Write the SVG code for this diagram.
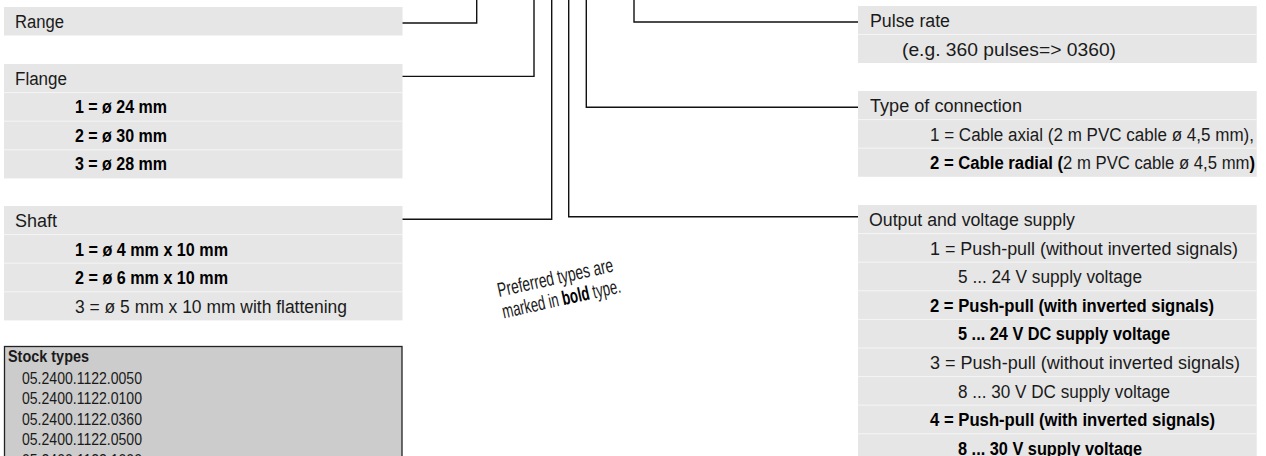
<svg xmlns="http://www.w3.org/2000/svg" width="1266" height="456" viewBox="0 0 1266 456">
<style>
.bg{fill:#e6e6e6}
.sep{stroke:#f5f5f5;stroke-width:1}
.t{font-family:"Liberation Sans",Arial,sans-serif;font-size:18px;fill:#1a1a1a}
.b{font-weight:bold;fill:#000}
.s{font-family:"Liberation Sans",Arial,sans-serif;font-size:17px;fill:#1a1a1a}
.n{font-family:"Liberation Sans",Arial,sans-serif;font-size:20px;fill:#1a1a1a}
.c{fill:none;stroke:#111;stroke-width:1.4}
</style>
<rect width="1266" height="456" fill="#fff"/>

<g id="range">
<rect class="bg" x="4" y="7" width="398.5" height="28.5"/>
<text class="t" x="15" y="27.5" textLength="49" lengthAdjust="spacingAndGlyphs">Range</text>
</g>

<g id="flange">
<rect class="bg" x="4" y="64" width="398.5" height="114.4"/>
<line class="sep" x1="4" x2="402.5" y1="92.6" y2="92.6"/>
<line class="sep" x1="4" x2="402.5" y1="121.2" y2="121.2"/>
<line class="sep" x1="4" x2="402.5" y1="149.8" y2="149.8"/>
<text class="t" x="15" y="84.5" textLength="52" lengthAdjust="spacingAndGlyphs">Flange</text>
<text class="t b" x="75" y="113" textLength="92" lengthAdjust="spacingAndGlyphs">1 = ø 24 mm</text>
<text class="t b" x="75" y="141.6" textLength="92" lengthAdjust="spacingAndGlyphs">2 = ø 30 mm</text>
<text class="t b" x="75" y="170.2" textLength="92" lengthAdjust="spacingAndGlyphs">3 = ø 28 mm</text>
</g>

<g id="shaft">
<rect class="bg" x="4" y="206" width="398.5" height="114.4"/>
<line class="sep" x1="4" x2="402.5" y1="234.6" y2="234.6"/>
<line class="sep" x1="4" x2="402.5" y1="263.2" y2="263.2"/>
<line class="sep" x1="4" x2="402.5" y1="291.8" y2="291.8"/>
<text class="t" x="15" y="227" textLength="42" lengthAdjust="spacingAndGlyphs">Shaft</text>
<text class="t b" x="75" y="255.6" textLength="153" lengthAdjust="spacingAndGlyphs">1 = ø 4 mm x 10 mm</text>
<text class="t b" x="75" y="284.2" textLength="153" lengthAdjust="spacingAndGlyphs">2 = ø 6 mm x 10 mm</text>
<text class="t" x="75" y="312.8" textLength="272" lengthAdjust="spacingAndGlyphs">3 = ø 5 mm x 10 mm with flattening</text>
</g>

<g id="stock">
<rect x="4.5" y="346.5" width="397.5" height="130" fill="#cccccc" stroke="#222" stroke-width="1.3"/>
<text class="s b" x="8" y="361.5" textLength="81" lengthAdjust="spacingAndGlyphs">Stock types</text>
<text class="s" x="22" y="383.5" textLength="120" lengthAdjust="spacingAndGlyphs">05.2400.1122.0050</text>
<text class="s" x="22" y="404.2" textLength="120" lengthAdjust="spacingAndGlyphs">05.2400.1122.0100</text>
<text class="s" x="22" y="424.8" textLength="120" lengthAdjust="spacingAndGlyphs">05.2400.1122.0360</text>
<text class="s" x="22" y="445.4" textLength="120" lengthAdjust="spacingAndGlyphs">05.2400.1122.0500</text>
<text class="s" x="22" y="466" textLength="120" lengthAdjust="spacingAndGlyphs">05.2400.1122.1000</text>
</g>

<g id="pulse-rate">
<rect class="bg" x="858" y="6" width="398.7" height="57"/>
<line class="sep" x1="858" x2="1256.7" y1="34.5" y2="34.5"/>
<text class="t" x="870" y="27" textLength="80" lengthAdjust="spacingAndGlyphs">Pulse rate</text>
<text class="t" x="902" y="55.5" textLength="214" lengthAdjust="spacingAndGlyphs">(e.g. 360 pulses=&gt; 0360)</text>
</g>

<g id="connection">
<rect class="bg" x="858" y="91" width="398.7" height="85.8"/>
<line class="sep" x1="858" x2="1256.7" y1="119.6" y2="119.6"/>
<line class="sep" x1="858" x2="1256.7" y1="148.2" y2="148.2"/>
<text class="t" x="870" y="112" textLength="152" lengthAdjust="spacingAndGlyphs">Type of connection</text>
<text class="t" x="930" y="140.6" textLength="324" lengthAdjust="spacingAndGlyphs">1 = Cable axial (2 m PVC cable ø 4,5 mm),</text>
<text class="t" x="930" y="169.2" textLength="325" lengthAdjust="spacingAndGlyphs"><tspan class="b">2 = Cable radial (</tspan>2 m PVC cable ø 4,5 mm<tspan class="b">)</tspan></text>
</g>

<g id="output">
<rect class="bg" x="858" y="205" width="398.7" height="260"/>
<line class="sep" x1="858" x2="1256.7" y1="233.6" y2="233.6"/>
<line class="sep" x1="858" x2="1256.7" y1="262.2" y2="262.2"/>
<line class="sep" x1="858" x2="1256.7" y1="290.8" y2="290.8"/>
<line class="sep" x1="858" x2="1256.7" y1="319.4" y2="319.4"/>
<line class="sep" x1="858" x2="1256.7" y1="348" y2="348"/>
<line class="sep" x1="858" x2="1256.7" y1="376.6" y2="376.6"/>
<line class="sep" x1="858" x2="1256.7" y1="405.2" y2="405.2"/>
<line class="sep" x1="858" x2="1256.7" y1="433.8" y2="433.8"/>
<text class="t" x="869" y="226" textLength="206" lengthAdjust="spacingAndGlyphs">Output and voltage supply</text>
<text class="t" x="930" y="254.6" textLength="308" lengthAdjust="spacingAndGlyphs">1 = Push-pull (without inverted signals)</text>
<text class="t" x="958" y="283.2" textLength="184" lengthAdjust="spacingAndGlyphs">5 ... 24 V supply voltage</text>
<text class="t b" x="930" y="311.8" textLength="284" lengthAdjust="spacingAndGlyphs">2 = Push-pull (with inverted signals)</text>
<text class="t b" x="958" y="340.4" textLength="212" lengthAdjust="spacingAndGlyphs">5 ... 24 V DC supply voltage</text>
<text class="t" x="930" y="369" textLength="310" lengthAdjust="spacingAndGlyphs">3 = Push-pull (without inverted signals)</text>
<text class="t" x="958" y="397.6" textLength="212" lengthAdjust="spacingAndGlyphs">8 ... 30 V DC supply voltage</text>
<text class="t b" x="930" y="426.2" textLength="285" lengthAdjust="spacingAndGlyphs">4 = Push-pull (with inverted signals)</text>
<text class="t b" x="958" y="454.8" textLength="184" lengthAdjust="spacingAndGlyphs">8 ... 30 V supply voltage</text>
</g>

<g id="note" transform="translate(499,297) rotate(-12.5)">
<text class="n" x="0" y="0" textLength="118" lengthAdjust="spacingAndGlyphs">Preferred types are</text>
<text class="n" x="0" y="22" textLength="121" lengthAdjust="spacingAndGlyphs">marked in <tspan class="b">bold</tspan> type.</text>
</g>

<g id="connectors">
<path class="c" d="M402.5 23 H476.7 V0"/>
<path class="c" d="M402.5 76.4 H534 V0"/>
<path class="c" d="M402.5 219.3 H551.7 V0"/>
<path class="c" d="M858 216.7 H568.7 V0"/>
<path class="c" d="M858 107.3 H586.3 V0"/>
<path class="c" d="M858 22 H634 V0"/>
</g>
</svg>
